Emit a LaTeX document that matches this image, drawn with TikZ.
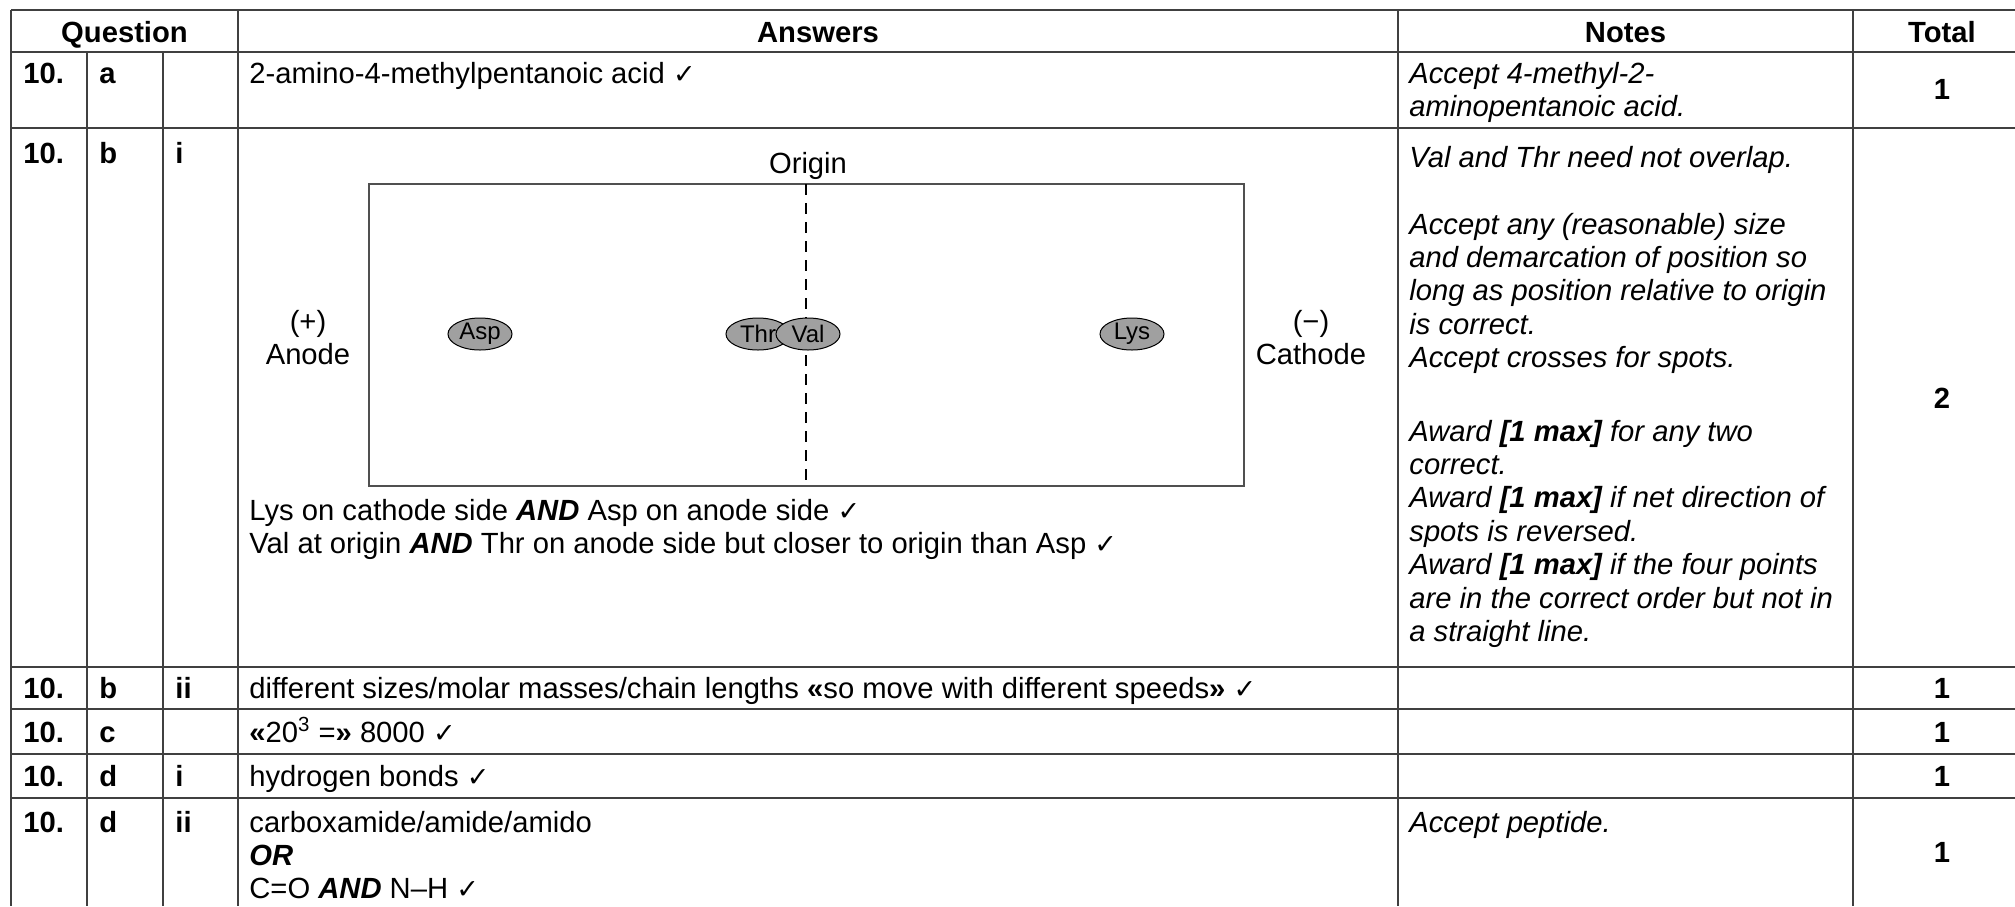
\documentclass[tikz,border=0pt]{standalone}
\usepackage{fontspec}
\setmainfont{Liberation Sans}
\newfontfamily\symf{DejaVu Sans}
\usetikzlibrary{shapes.geometric}
\definecolor{tabline}{RGB}{64,64,64}
\definecolor{gelline}{RGB}{80,80,80}
\definecolor{spotfill}{RGB}{160,160,160}
\newcommand{\tick}{{\symf\fontsize{13.5}{13.5}\selectfont ✓}}
\newcommand{\bi}[1]{\textbf{\textit{#1}}}
\tikzset{
  grid/.style={draw=tabline, line width=1pt},
  txt/.style={anchor=base west, inner sep=0pt, font=\fontsize{14.6}{16.7}\selectfont},
  ctr/.style={anchor=base, inner sep=0pt, font=\fontsize{14.6}{16.7}\selectfont},
  btxt/.style={txt, font=\fontsize{14.6}{16.7}\selectfont\bfseries},
  bctr/.style={ctr, font=\fontsize{14.6}{16.7}\selectfont\bfseries},
  note/.style={txt, font=\fontsize{14.6}{16.7}\selectfont\itshape},
  spot/.style={ellipse, draw=black, fill=spotfill, line width=0.5pt, minimum width=32pt, minimum height=16pt, inner sep=0pt, font=\fontsize{12}{12}\selectfont},
  gel/.style={draw=gelline, line width=1pt},
  originline/.style={draw=black, line width=1.1pt, dash pattern=on 5.5pt off 4pt}
}
\begin{document}
\begin{tikzpicture}[x=0.5pt,y=-0.5pt]
\fill[white] (0,0) rectangle (2015,906);
\useasboundingbox (0,0) rectangle (2015,906);
% table grid
\foreach \yy in {10,52,128,667,709,754,798} \draw[grid] (11,\yy) -- (2015,\yy);
\foreach \xx in {11,238,1398,1853} \draw[grid] (\xx,10) -- (\xx,906);
\foreach \xx in {87,163} \draw[grid] (\xx,52) -- (\xx,906);
% header
\node[bctr] (hq) at (124.5,42) {Question};
\node[bctr] (ha) at (818,42) {Answers};
\node[bctr] (hn) at (1625.5,42) {Notes};
\node[bctr] (ht) at (1942,42) {Total};
% row a
\node[btxt] (a1) at (23,83) {10.};
\node[btxt] (a2) at (99,83) {a};
\node[txt] (aa) at (249,83) {2-amino-4-methylpentanoic acid \tick};
\node[note] (an1) at (1409,83) {Accept 4-methyl-2-};
\node[note] (an2) at (1409,116) {aminopentanoic acid.};
\node[bctr] (at) at (1942,99) {1};
% row b i
\node[btxt] (b1) at (23,163) {10.};
\node[btxt] (b2) at (99,163) {b};
\node[btxt] (b3) at (175,163) {i};
\draw[gel] (369,184) rectangle (1244,486);
\node[ctr] (orig) at (808,173) {Origin};
\coordinate (otop) at (806,184);
\coordinate (obot) at (806,486);
\draw[originline] (otop) -- (obot);
\node[ctr] (plus) at (308,331) {(+)};
\node[ctr] (anode) at (308,364) {Anode};
\node[ctr] (minus) at (1311,331) {(−)};
\node[ctr] (cathode) at (1311,364) {Cathode};
\node[spot] (asp) at (480,334) {Asp};
\node[spot] (thr) at (758,334) {Thr};
\node[spot] (val) at (808,334) {Val};
\node[spot] (lys) at (1132,334) {Lys};
\node[txt] (ba1) at (249,520) {Lys on cathode side \bi{AND} Asp on anode side \tick};
\node[txt] (ba2) at (249,553) {Val at origin \bi{AND} Thr on anode side but closer to origin than Asp \tick};
\node[note] (bn1) at (1409,167) {Val and Thr need not overlap.};
\node[note] (bn2) at (1409,234) {Accept any (reasonable) size};
\node[note] (bn3) at (1409,267.4) {and demarcation of position so};
\node[note] (bn4) at (1409,300.8) {long as position relative to origin};
\node[note] (bn5) at (1409,334.2) {is correct.};
\node[note] (bn6) at (1409,367.6) {Accept crosses for spots.};
\node[note] (bn7) at (1409,441) {Award \textbf{[1 max]} for any two};
\node[note] (bn8) at (1409,474.4) {correct.};
\node[note] (bn9) at (1409,507.8) {Award \textbf{[1 max]} if net direction of};
\node[note] (bn10) at (1409,541.2) {spots is reversed.};
\node[note] (bn11) at (1409,574.6) {Award \textbf{[1 max]} if the four points};
\node[note] (bn12) at (1409,608) {are in the correct order but not in};
\node[note] (bn13) at (1409,641.4) {a straight line.};
\node[bctr] (bt) at (1942,408) {2};
% row b ii
\node[btxt] (c1) at (23,698) {10.};
\node[btxt] (c2) at (99,698) {b};
\node[btxt] (c3) at (175,698) {ii};
\node[txt] (ca) at (249,698) {different sizes/molar masses/chain lengths \textbf{«}so move with different speeds\textbf{»} \tick};
\node[bctr] (ct) at (1942,698) {1};
% row c
\node[btxt] (d1) at (23,742) {10.};
\node[btxt] (d2) at (99,742) {c};
\node[txt] (da) at (249,742) {\textbf{«}20\textsuperscript{3} =\textbf{»} 8000 \tick};
\node[bctr] (dt) at (1942,742) {1};
% row d i
\node[btxt] (e1) at (23,786) {10.};
\node[btxt] (e2) at (99,786) {d};
\node[btxt] (e3) at (175,786) {i};
\node[txt] (ea) at (249,786) {hydrogen bonds \tick};
\node[bctr] (et) at (1942,786) {1};
% row d ii
\node[btxt] (f1) at (23,832) {10.};
\node[btxt] (f2) at (99,832) {d};
\node[btxt] (f3) at (175,832) {ii};
\node[txt] (fa1) at (249,832) {carboxamide/amide/amido};
\node[txt] (fa2) at (249,865) {\bi{OR}};
\node[txt] (fa3) at (249,898) {C=O \bi{AND} N–H \tick};
\node[note] (fn1) at (1409,832) {Accept peptide.};
\node[bctr] (ft) at (1942,862) {1};
\end{tikzpicture}
\end{document}
